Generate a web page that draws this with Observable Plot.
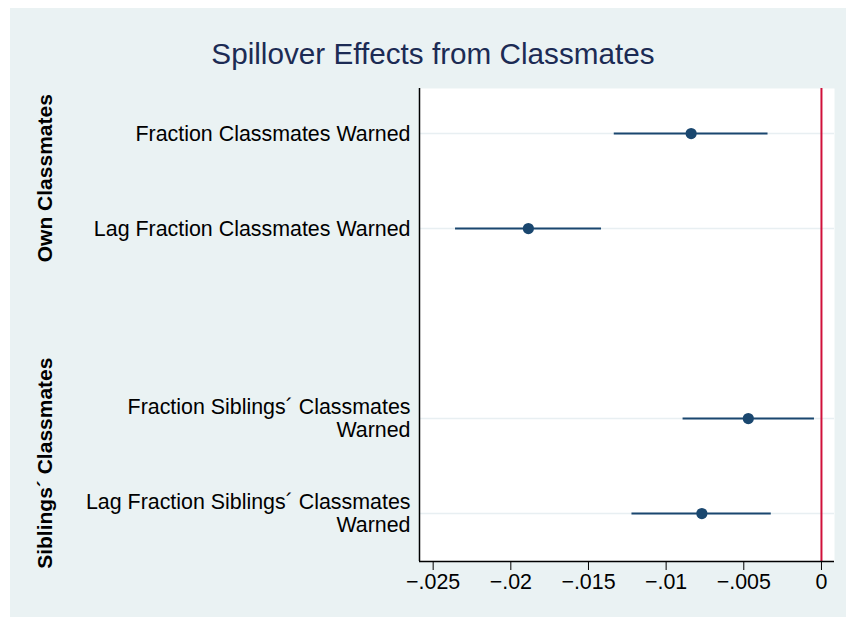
<!DOCTYPE html>
<html>
<head>
<meta charset="utf-8">
<script src="https://cdn.jsdelivr.net/npm/d3@7"></script>
<script src="https://cdn.jsdelivr.net/npm/@observablehq/plot@0.6"></script>
<style>
  html, body { margin: 0; padding: 0; background: #ffffff; }
  #wrap { position: relative; width: 846px; height: 617px; overflow: hidden; }
  #bg { position: absolute; left: 10px; top: 8px; width: 836px; height: 609px; background: #eaf2f3; }
  #title { position: absolute; left: 10px; top: 37px; width: 846px; height: 34px; line-height: 34px;
           text-align: center; font-family: "Liberation Sans", Arial, sans-serif; font-size: 29.7px; color: #1c2b54; }
  #chart { position: absolute; left: 0; top: 80px; }
</style>
</head>
<body>
<div id="wrap">
  <div id="bg"></div>
  <div id="title">Spillover Effects from Classmates</div>
  <div id="chart"></div>
</div>
<script>
// ---- data ----
const labels = [
  "Fraction Classmates Warned",
  "Lag Fraction Classmates Warned",
  "Fraction Siblings´ Classmates\nWarned",
  "Lag Fraction Siblings´ Classmates\nWarned"
];
const rows = [1, 2, 4, 5];
const coef = [-0.00839, -0.01887, -0.00471, -0.0077];
const ciLow = [-0.01334, -0.02356, -0.00891, -0.0122];
const ciHigh = [-0.00344, -0.01416, -0.00045, -0.00323];
const groupNames = ["Own Classmates", "Siblings´ Classmates"];
const groupRows = [[1, 2], [4, 5]];
const xTicks = [-0.025, -0.02, -0.015, -0.01, -0.005, 0];

// ---- build ----
const table = labels.map((label, i) => ({label, row: rows[i], b: coef[i], lo: ciLow[i], hi: ciHigh[i]}));
const groups = groupNames.map((name, i) => ({name, row: d3.mean(groupRows[i]) - 0.03}));
const xDomain = [-0.02588, 0.00084];
const yDomain = [0.526, 5.505];
const fmt = d => d === 0 ? "0" : (d < 0 ? "\u2212" : "") + String(Math.abs(d)).replace(/^0/, "");

const navy = "#1a476f";
const chart = Plot.plot({
  width: 846,
  height: 537,
  marginLeft: 419,
  marginRight: 12,
  marginTop: 8,
  marginBottom: 56,
  style: {background: "transparent", fontFamily: "'Liberation Sans', Arial, sans-serif", fontSize: "21.4px", color: "#000"},
  x: {domain: xDomain, label: null},
  y: {domain: yDomain, reverse: true, label: null},
  marks: [
    Plot.frame({fill: "white", stroke: null}),
    Plot.ruleY(table, {y: "row", stroke: "#e8eff2", strokeWidth: 1.5}),
    Plot.ruleX([0], {stroke: "#d0103a", strokeWidth: 2}),
    Plot.ruleY(table, {y: "row", x1: "lo", x2: "hi", stroke: navy, strokeWidth: 2}),
    Plot.dot(table, {x: "b", y: "row", r: 5.6, fill: navy, stroke: null}),
    Plot.ruleX([xDomain[0]], {stroke: "#000", strokeWidth: 1.5}),
    Plot.ruleY([yDomain[1]], {stroke: "#000", strokeWidth: 1.5}),
    Plot.axisX({ticks: xTicks, tickFormat: fmt, tickSize: 9, tickPadding: 3, label: null, fontSize: 21.4}),
    Plot.axisY({ticks: rows, tickFormat: r => labels[rows.indexOf(r)], tickSize: 0, tickPadding: 9,
      label: null, fontSize: 21.4, lineHeight: 1.08}),
    Plot.text(groups, {y: "row", text: "name", frameAnchor: "left", dx: -374, rotate: -90,
      textAnchor: "middle", fontWeight: "bold", fontSize: 21, fill: "#000"})
  ]
});
document.getElementById("chart").appendChild(chart);
</script>
</body>
</html>
